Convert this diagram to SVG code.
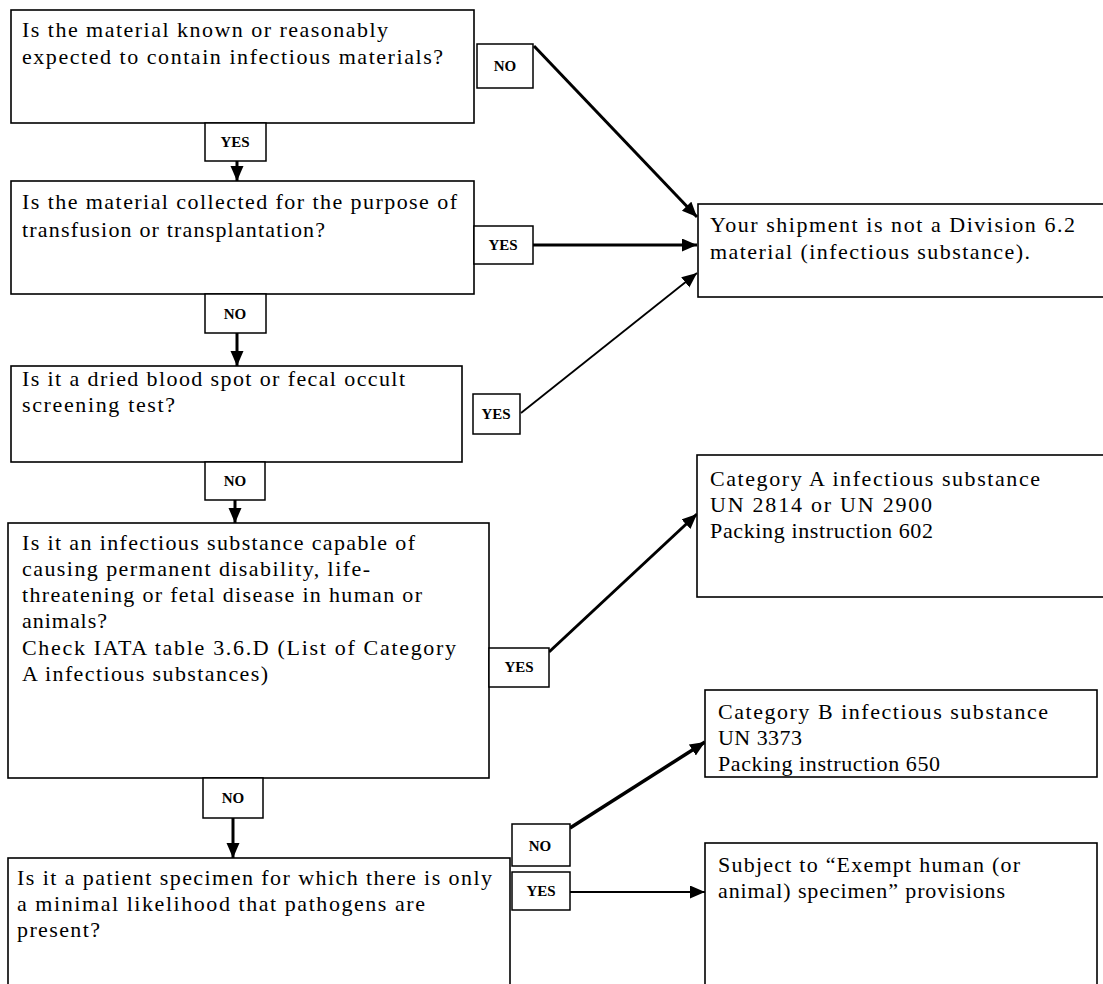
<svg xmlns="http://www.w3.org/2000/svg" width="1103" height="984" viewBox="0 0 1103 984">
<style>
.box{fill:#fff;stroke:#000;stroke-width:1.6}
.lbl{fill:#fff;stroke:#000;stroke-width:1.5}
.t{font-family:"Liberation Serif","Times New Roman",serif;font-size:22px;fill:#000}
.l{font-family:"Liberation Serif","Times New Roman",serif;font-size:15px;font-weight:bold;fill:#000;text-anchor:middle}
.c{stroke:#000;fill:none}
</style>
<defs>
<marker id="ah" markerUnits="userSpaceOnUse" markerWidth="18" markerHeight="14" refX="15" refY="6.5" orient="auto">
<path d="M0,0 L15,6.5 L0,13 z" fill="#000"/>
</marker>
</defs>
<rect width="1103" height="984" fill="#fff"/>
<g id="connectors">
<line class="c" x1="237" y1="161" x2="237" y2="181" stroke-width="3" marker-end="url(#ah)"/>
<line class="c" x1="237" y1="333" x2="237" y2="366" stroke-width="3" marker-end="url(#ah)"/>
<line class="c" x1="235" y1="500" x2="235" y2="523" stroke-width="3" marker-end="url(#ah)"/>
<line class="c" x1="233" y1="818" x2="233" y2="858" stroke-width="3" marker-end="url(#ah)"/>
<line class="c" x1="534" y1="46" x2="697" y2="217" stroke-width="3" marker-end="url(#ah)"/>
<line class="c" x1="533" y1="245" x2="697" y2="245" stroke-width="3" marker-end="url(#ah)"/>
<line class="c" x1="521" y1="413" x2="697" y2="273" stroke-width="1.8" marker-end="url(#ah)"/>
<line class="c" x1="549" y1="652" x2="697" y2="514" stroke-width="3" marker-end="url(#ah)"/>
<line class="c" x1="570" y1="828" x2="705" y2="742" stroke-width="3.5" marker-end="url(#ah)"/>
<line class="c" x1="570" y1="892" x2="705" y2="892" stroke-width="2" marker-end="url(#ah)"/>
</g>
<g id="q1">
<rect class="box" x="11" y="10" width="463" height="113"/>
<text class="t" x="22" y="37" textLength="366" lengthAdjust="spacing">Is the material known or reasonably</text>
<text class="t" x="22" y="64" textLength="421" lengthAdjust="spacing">expected to contain infectious materials?</text>
</g>
<g id="q1-no"><rect class="lbl" x="477" y="44" width="56" height="44"/><text class="l" x="505" y="71">NO</text></g>
<g id="q1-yes"><rect class="lbl" x="205" y="123" width="61" height="38"/><text class="l" x="235" y="147">YES</text></g>
<g id="q2">
<rect class="box" x="11" y="181" width="463" height="113"/>
<text class="t" x="22" y="209" textLength="435" lengthAdjust="spacing">Is the material collected for the purpose of</text>
<text class="t" x="22" y="237" textLength="303" lengthAdjust="spacing">transfusion or transplantation?</text>
</g>
<g id="q2-yes"><rect class="lbl" x="474" y="226" width="59" height="38"/><text class="l" x="503" y="250">YES</text></g>
<g id="q2-no"><rect class="lbl" x="205" y="294" width="61" height="39"/><text class="l" x="235" y="319">NO</text></g>
<g id="q3">
<rect class="box" x="11" y="366" width="451" height="96"/>
<text class="t" x="22" y="386" textLength="383" lengthAdjust="spacing">Is it a dried blood spot or fecal occult</text>
<text class="t" x="22" y="412" textLength="153" lengthAdjust="spacing">screening test?</text>
</g>
<g id="q3-yes"><rect class="lbl" x="473" y="394" width="47" height="40"/><text class="l" x="496" y="419">YES</text></g>
<g id="q3-no"><rect class="lbl" x="205" y="462" width="60" height="38"/><text class="l" x="235" y="486">NO</text></g>
<g id="q4">
<rect class="box" x="8" y="523" width="481" height="255"/>
<text class="t" x="22" y="550" textLength="393" lengthAdjust="spacing">Is it an infectious substance capable of</text>
<text class="t" x="22" y="576" textLength="348" lengthAdjust="spacing">causing permanent disability, life-</text>
<text class="t" x="22" y="602" textLength="400" lengthAdjust="spacing">threatening or fetal disease in human or</text>
<text class="t" x="22" y="628" textLength="85" lengthAdjust="spacing">animals?</text>
<text class="t" x="22" y="655" textLength="434" lengthAdjust="spacing">Check IATA table 3.6.D (List of Category</text>
<text class="t" x="22" y="681" textLength="246" lengthAdjust="spacing">A infectious substances)</text>
</g>
<g id="q4-yes"><rect class="lbl" x="489" y="648" width="60" height="39"/><text class="l" x="519" y="672">YES</text></g>
<g id="q4-no"><rect class="lbl" x="203" y="778" width="60" height="40"/><text class="l" x="233" y="803">NO</text></g>
<g id="q5">
<rect class="box" x="8" y="858" width="502" height="140"/>
<text class="t" x="17" y="885" textLength="475" lengthAdjust="spacing">Is it a patient specimen for which there is only</text>
<text class="t" x="17" y="911" textLength="408" lengthAdjust="spacing">a minimal likelihood that pathogens are</text>
<text class="t" x="17" y="937" textLength="83" lengthAdjust="spacing">present?</text>
</g>
<g id="q5-no"><rect class="lbl" x="512" y="824" width="58" height="42"/><text class="l" x="540" y="851">NO</text></g>
<g id="q5-yes"><rect class="lbl" x="512" y="872" width="58" height="38"/><text class="l" x="541" y="896">YES</text></g>
<g id="r1">
<rect class="box" x="698" y="204" width="410" height="93"/>
<text class="t" x="710" y="232" textLength="365" lengthAdjust="spacing">Your shipment is not a Division 6.2</text>
<text class="t" x="710" y="259" textLength="320" lengthAdjust="spacing">material (infectious substance).</text>
</g>
<g id="r2">
<rect class="box" x="697" y="455" width="411" height="142"/>
<text class="t" x="710" y="486" textLength="330" lengthAdjust="spacing">Category A infectious substance</text>
<text class="t" x="710" y="512" textLength="222" lengthAdjust="spacing">UN 2814 or UN 2900</text>
<text class="t" x="710" y="538" textLength="223" lengthAdjust="spacing">Packing instruction 602</text>
</g>
<g id="r3">
<rect class="box" x="705" y="690" width="392" height="87"/>
<text class="t" x="718" y="719" textLength="330" lengthAdjust="spacing">Category B infectious substance</text>
<text class="t" x="718" y="745" textLength="84" lengthAdjust="spacing">UN 3373</text>
<text class="t" x="718" y="771" textLength="222" lengthAdjust="spacing">Packing instruction 650</text>
</g>
<g id="r4">
<rect class="box" x="705" y="843" width="392" height="160"/>
<text class="t" x="718" y="872" textLength="302" lengthAdjust="spacing">Subject to “Exempt human (or</text>
<text class="t" x="718" y="898" textLength="287" lengthAdjust="spacing">animal) specimen” provisions</text>
</g>
</svg>
